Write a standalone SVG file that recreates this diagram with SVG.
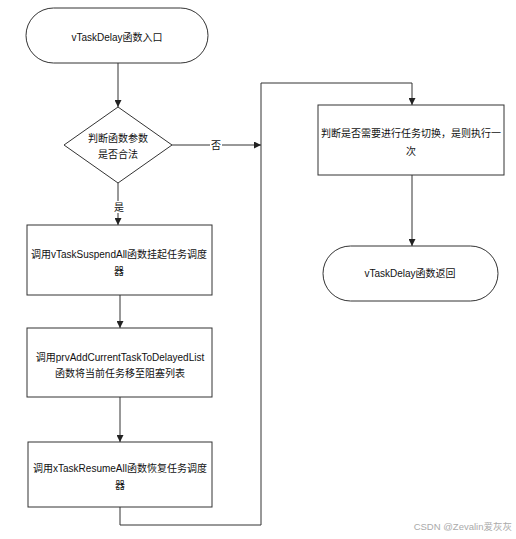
<svg xmlns="http://www.w3.org/2000/svg" width="516" height="539" viewBox="0 0 516 539">
<style>
.s{fill:#fff;stroke:#333;stroke-width:1}
.t{font-family:"Liberation Sans","Noto Sans CJK SC",sans-serif;font-size:10px;fill:#111;text-anchor:middle}
.c{fill:none;stroke:#333;stroke-width:1}
.bg{fill:#fff}
.w{font-family:"Liberation Sans","Noto Sans CJK SC",sans-serif;font-size:9.5px;fill:#aaa;text-anchor:end}
</style>
<defs>
<marker id="a" viewBox="0 0 8 8" refX="8" refY="4" markerWidth="7" markerHeight="7" orient="auto" markerUnits="userSpaceOnUse">
<path d="M0,0 L8,4 L0,8 z" fill="#222"/>
</marker>
</defs>
<rect width="516" height="539" fill="#fff"/>
<g id="connectors">
<path class="c" d="M118,63 V107" marker-end="url(#a)"/>
<path class="c" d="M172,145 H261" marker-end="url(#a)"/>
<path class="c" d="M118,183 V225" marker-end="url(#a)"/>
<path class="c" d="M120,295 V328" marker-end="url(#a)"/>
<path class="c" d="M120,397 V442" marker-end="url(#a)"/>
<path class="c" d="M120,507 V525 H261 V83 H412 V105" marker-end="url(#a)"/>
<path class="c" d="M412,175 V246" marker-end="url(#a)"/>
<rect class="bg" x="210" y="139" width="12" height="12"/>
<text class="t" x="216" y="149">否</text>
<rect class="bg" x="112" y="201" width="13" height="12"/>
<text class="t" x="119" y="211">是</text>
</g>
<g id="start">
<rect class="s" x="26" y="8" width="182" height="55" rx="27.5"/>
<text class="t" x="117" y="41">vTaskDelay函数入口</text>
</g>
<g id="check">
<polygon class="s" points="118,107 172,145 118,183 64,145"/>
<text class="t" x="118" y="142">判断函数参数</text>
<text class="t" x="118" y="158">是否合法</text>
</g>
<g id="suspend">
<rect class="s" x="27" y="225" width="185" height="70"/>
<text class="t" x="119" y="258">调用vTaskSuspendAll函数挂起任务调度</text>
<text class="t" x="119" y="275">器</text>
</g>
<g id="addDelayed">
<rect class="s" x="27" y="328" width="185" height="69"/>
<text class="t" x="120" y="361">调用prvAddCurrentTaskToDelayedList</text>
<text class="t" x="120" y="377">函数将当前任务移至阻塞列表</text>
</g>
<g id="resume">
<rect class="s" x="28" y="442" width="184" height="65"/>
<text class="t" x="120" y="472">调用xTaskResumeAll函数恢复任务调度</text>
<text class="t" x="120" y="489">器</text>
</g>
<g id="yield">
<rect class="s" x="318" y="105" width="186" height="70"/>
<text class="t" x="411" y="137">判断是否需要进行任务切换，是则执行一</text>
<text class="t" x="411" y="155">次</text>
</g>
<g id="end">
<rect class="s" x="323" y="246" width="175" height="55" rx="27.5"/>
<text class="t" x="410" y="277">vTaskDelay函数返回</text>
</g>
<text class="w" x="512" y="530">CSDN @Zevalin爱灰灰</text>
</svg>
